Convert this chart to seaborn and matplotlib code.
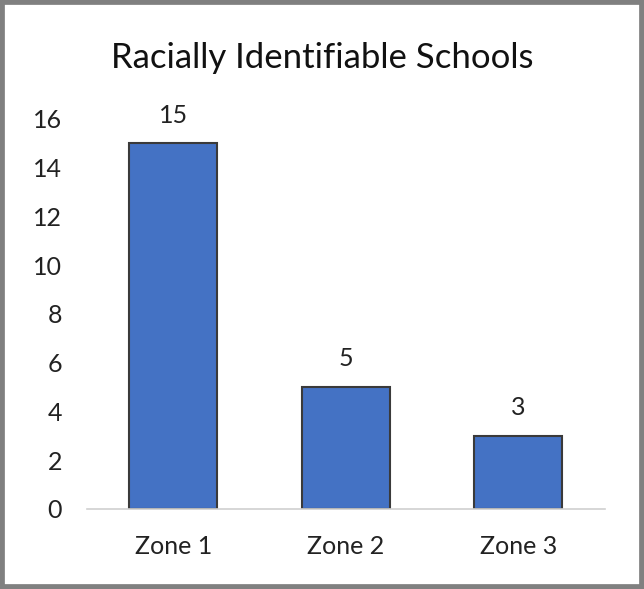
import matplotlib
matplotlib.use("Agg")
import matplotlib.pyplot as plt
import seaborn as sns
from matplotlib.patches import Rectangle

zones = ["Zone 1", "Zone 2", "Zone 3"]
counts = [15, 5, 3]
yticks = [0, 2, 4, 6, 8, 10, 12, 14, 16]

sns.set_style("white")
plt.rcParams['font.family'] = ['Lato', 'DejaVu Sans']

fig = plt.figure(figsize=(6.44, 5.89), dpi=100)
ax = fig.add_axes([0.135, 0.136, 0.804, 0.662])

sns.barplot(x=zones, y=counts, color="#4472C4", edgecolor="#3a3a3a",
            linewidth=1.5, width=0.51, saturation=1, ax=ax)

ax.bar_label(ax.containers[0], fontsize=18, color="#222222", padding=12)

ax.set_ylim(0, 16)
ax.set_xlim(-0.5, 2.5)
ax.set_yticks(yticks)
ax.tick_params(axis="both", length=0, labelsize=18, colors="#222222")
ax.tick_params(axis="x", pad=19)
ax.tick_params(axis="y", pad=18)
for s in ["top", "right", "left"]:
    ax.spines[s].set_visible(False)
ax.spines["bottom"].set_color("#d0d0d0")
ax.spines["bottom"].set_linewidth(1.2)

fig.text(0.5, 0.902, "Racially Identifiable Schools", ha="center", va="center",
         fontsize=25, color="#111111")

fig.patches.append(Rectangle((0, 0), 1, 1, transform=fig.transFigure,
                             fill=False, edgecolor="#808080", linewidth=7))

fig.savefig("out.png", dpi=100)
